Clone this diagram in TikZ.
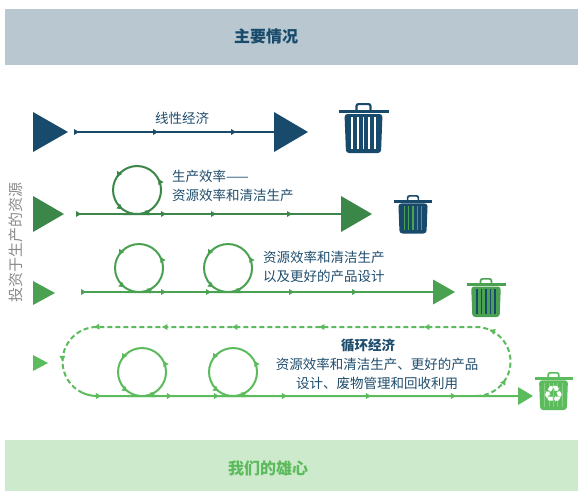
\documentclass[tikz,border=0pt]{standalone}
\usepackage{fontspec}
\newfontfamily\cjk{Noto Sans CJK SC}
\newfontfamily\symfont{DejaVu Sans}
\usetikzlibrary{arrows.meta}
\usetikzlibrary{shapes.geometric}
\usetikzlibrary{decorations.markings}
\definecolor{navy}{HTML}{174A6B}
\definecolor{textblue}{HTML}{1F4D6D}
\definecolor{greenA}{HTML}{3A8749}
\definecolor{greenB}{HTML}{4BA152}
\definecolor{greenC}{HTML}{5CBB5C}
\definecolor{greenD}{HTML}{86CF86}
\definecolor{bandtop}{HTML}{B8C7D0}
\definecolor{bandbot}{HTML}{CDEACC}
\definecolor{graytext}{HTML}{8A8A8A}
\newcommand{\rowfont}{\cjk\fontsize{13.5}{19}\selectfont}
\tikzset{
  flowtip/.style={postaction={decorate,decoration={markings,
      mark=at position #1 with {\arrow{Latex[length=6pt,width=6.5pt]}}}}},
  bigtri/.style={isosceles triangle, isosceles triangle stretches,
      inner sep=0pt, outer sep=0pt, anchor=west},
  rowtext/.style={font=\rowfont, text=textblue, inner sep=0pt},
}
% one curl of the flow line: centre x, line y, colour
\newcommand{\curl}[3]{%
  \draw[#3, line width=2pt, flowtip/.list={29pt,64pt,114pt,150pt}]
    (#1-14,#2) to[out=0,in=-135] ++(31,7)
    arc[start angle=-45,end angle=225,radius=24]
    to[out=-45,in=180] ++(31,-7);}
% waste bin: centre x, top y, scale, body colour, stripe colour
\newcommand{\bin}[5]{%
  \begin{scope}[shift={(#1,#2)}, scale=#3]
    \draw[#4, line width=2.2pt*#3, rounded corners=2pt] (-7,-7.5) -- (-7,-1.1) -- (7,-1.1) -- (7,-7.5);
    \fill[#4] (-25,-6.5) rectangle (25,-10);
    \fill[#4, rounded corners=3pt] (-19,-11) -- (19,-11) -- (17.5,-50) -- (-17.5,-50) -- cycle;
    \foreach \sx in {-11.5,-5.75,0,5.75,11.5}
      \fill[#5] (\sx-0.8,-14) rectangle (\sx+0.8,-46);
  \end{scope}}

\begin{document}
\begin{tikzpicture}[x=1pt,y=1pt]
  \useasboundingbox (0,0) rectangle (578,-491);
  % bands
  \fill[bandtop] (5,-9) rectangle (578,-65);
  \node[font=\cjk\bfseries\fontsize{16}{16}\selectfont, text=navy] (situation) at (266,-36) {主要情况};
  \fill[bandbot] (5,-440) rectangle (578,-491);
  \node[font=\cjk\bfseries\fontsize{16}{16}\selectfont, text=greenC] (ambition) at (268,-468) {我们的雄心};
  \node[rotate=90, font=\cjk\fontsize{15}{15}\selectfont, text=graytext] (invest) at (16,-242) {投资于生产的资源};

  % linear economy
  \node[bigtri, fill=navy, minimum width=40pt, minimum height=35pt] (r1in) at (33,-132) {};
  \node[bigtri, fill=navy, minimum width=40pt, minimum height=34pt] (r1out) at (274,-132) {};
  \coordinate (r1start) at (75,-132);
  \draw[navy, line width=2.5pt, flowtip/.list={5pt,84pt,162pt}] (r1start) -- (r1out.west);
  \node[rowtext] (linear) at (182,-118) {线性经济};
  \bin{363.5}{-103}{1}{navy}{white}

  % production efficiency
  \node[bigtri, fill=greenA, minimum width=36pt, minimum height=31pt] (r2in) at (33,-214) {};
  \node[bigtri, fill=greenA, minimum width=36pt, minimum height=31pt] (r2out) at (341,-214) {};
  \coordinate (r2start) at (77,-214);
  \draw[greenA, line width=2pt, flowtip/.list={5pt,90pt,140pt,216pt}] (r2start) -- (r2out.west);
  \curl{137}{-214}{greenA}
  \node[rowtext, align=left, anchor=west] (efficiency) at (172,-185.5) {生产效率——\\资源效率和清洁生产};
  \bin{413}{-195}{0.77}{navy}{greenB}

  % efficiency and better design
  \node[bigtri, fill=greenB, minimum width=24pt, minimum height=22pt] (r3in) at (33,-293) {};
  \node[bigtri, fill=greenB, minimum width=25pt, minimum height=22pt] (r3out) at (433,-292) {};
  \coordinate (r3start) at (82,-292);
  \draw[greenB, line width=2pt, flowtip/.list={5pt,85pt,130pt,213pt,276pt}] (r3start) -- (r3out.west);
  \curl{139}{-292}{greenB}
  \curl{228}{-292}{greenB}
  \node[rowtext, align=left, anchor=west] (design) at (263,-267) {资源效率和清洁生产\\以及更好的产品设计};
  \bin{486}{-278}{0.78}{greenB}{navy}

  % circular economy
  \node[bigtri, fill=greenC, minimum width=16pt, minimum height=15pt] (r4in) at (33,-363) {};
  \node[bigtri, fill=greenC, minimum width=18pt, minimum height=15pt] (r4out) at (518,-396) {};
  \coordinate (c4l) at (97,-361.5);
  \coordinate (c4r) at (476,-361.5);
  \draw[greenC, line width=2pt, dash pattern=on 5pt off 3pt,
        flowtip/.list={36pt,95pt,161pt,266pt,353pt,423pt,491pt,542pt}]
    ([shift={(-90:34.5)}]c4r) arc[start angle=-90,end angle=90,radius=34.5]
    -- ([shift={(90:34.5)}]c4l) arc[start angle=90,end angle=245,radius=34.5];
  \draw[greenC, line width=2pt, flowtip/.list={20pt,91pt,138pt,206pt,290pt,375pt}]
    ([shift={(245:34.5)}]c4l) arc[start angle=245,end angle=270,radius=34.5] -- (r4out.west);
  \curl{142}{-396}{greenC}
  \curl{233}{-396}{greenC}
  \node[rowtext, font=\rowfont\bfseries] (circular) at (368,-345) {循环经济};
  \node[rowtext, align=center] (circbody) at (377,-374) {资源效率和清洁生产、更好的产品\\设计、废物管理和回收利用};
  \bin{553.5}{-372}{0.76}{greenC}{greenD}
  \node[text=white, font=\symfont\fontsize{23}{23}\selectfont, inner sep=0pt] (recycle) at (553.5,-394) {♻};
\end{tikzpicture}
\end{document}
